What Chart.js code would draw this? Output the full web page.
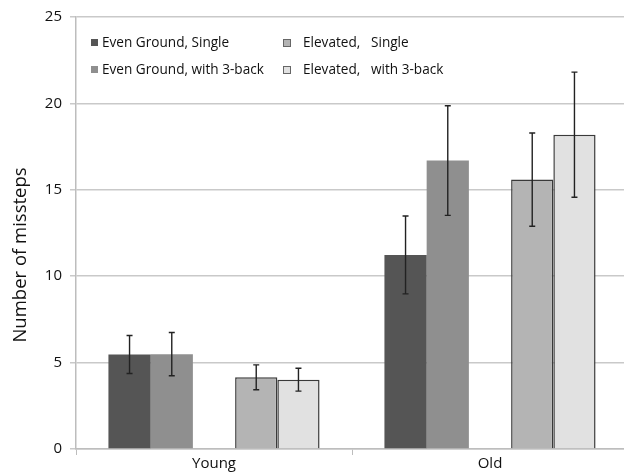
<!DOCTYPE html>
<html><head><meta charset="utf-8">
<script src="https://cdn.jsdelivr.net/npm/chart.js@4.4.1/dist/chart.umd.min.js"></script>
<style>
html,body{margin:0;padding:0;overflow:hidden;background:#fff;width:624px;height:472px;}
#wrap{position:absolute;left:0;top:0;width:632px;height:472px;}
</style></head>
<body><div id="wrap"><canvas id="c" width="632" height="472"></canvas></div>
<script>
const categories = ["Young", "Old"];
const seriesNames = ["Even Ground, Single", "Even Ground, with 3-back", "Elevated, Single", "Elevated, with 3-back"];
const evenSingle = [5.47, 11.23];
const evenBack = [5.49, 16.69];
const elevSingle = [4.15, 15.59];
const elevBack = [4.01, 18.19];
const evenSingleErr = [1.1, 2.25];
const evenBackErr = [1.25, 3.17];
const elevSingleErr = [0.72, 2.7];
const elevBackErr = [0.66, 3.62];
const yTicks = [0, 5, 10, 15, 20, 25];

const FONT = "'Open Sans', sans-serif";
const colors = ["#555555", "#8f8f8f", "#b4b4b4", "#e1e1e1"];
const borders = ["#555555", "#8f8f8f", "#3a3a3a", "#3a3a3a"];
const borderW = [0, 0, 1.5, 1.5];
const values = [evenSingle, evenBack, elevSingle, elevBack];
const errs = [evenSingleErr, evenBackErr, elevSingleErr, elevBackErr];

const datasets = [];
values.forEach((v, i) => {
  if (i === 2) datasets.push({label: "", data: categories.map(() => null), spacer: true, backgroundColor: "rgba(0,0,0,0)"});
  datasets.push({label: seriesNames[i], data: v, err: errs[i], backgroundColor: colors[i], borderColor: borders[i], borderWidth: borderW[i], borderSkipped: "bottom"});
});

const errorBars = {
  id: "errorBars",
  afterDatasetsDraw(chart) {
    const ctx = chart.ctx, y = chart.scales.y;
    ctx.save();
    ctx.strokeStyle = "#222";
    ctx.lineWidth = 1.4;
    chart.data.datasets.forEach((ds, di) => {
      if (!ds.err) return;
      const meta = chart.getDatasetMeta(di);
      meta.data.forEach((el, j) => {
        const v = ds.data[j], e = ds.err[j];
        const x = el.x, yt = y.getPixelForValue(v + e), yb = y.getPixelForValue(v - e);
        ctx.beginPath();
        ctx.moveTo(x, yt); ctx.lineTo(x, yb);
        ctx.moveTo(x - 3, yt); ctx.lineTo(x + 3, yt);
        ctx.moveTo(x - 3, yb); ctx.lineTo(x + 3, yb);
        ctx.stroke();
      });
    });
    ctx.restore();
  }
};

const legendAndTitle = {
  id: "legendAndTitle",
  afterDraw(chart) {
    const ctx = chart.ctx;
    ctx.save();
    ctx.font = "13.6px " + FONT;
    ctx.fillStyle = "#111";
    ctx.textBaseline = "middle";
    const rowsY = [43, 70];
    [0, 1].forEach((k, r) => {
      ctx.fillStyle = colors[k];
      ctx.fillRect(91, rowsY[r] - 4, 7, 7);
      ctx.fillStyle = "#111";
      ctx.fillText(seriesNames[k], 102, rowsY[r]);
    });
    [2, 3].forEach((k, r) => {
      ctx.fillStyle = colors[k];
      ctx.fillRect(283, rowsY[r] - 4, 8, 8);
      ctx.strokeStyle = "#666";
      ctx.lineWidth = 1;
      ctx.strokeRect(283.5, rowsY[r] - 3.5, 7, 7);
      const parts = seriesNames[k].split(", ");
      ctx.fillStyle = "#111";
      ctx.fillText(parts[0] + ",", 303, rowsY[r]);
      ctx.fillText(parts[1], 371, rowsY[r]);
    });
    ctx.font = "18.5px " + FONT;
    ctx.textAlign = "center";
    ctx.translate(21, 255);
    ctx.rotate(-Math.PI / 2);
    ctx.fillText("Number of missteps", 0, 0);
    ctx.restore();
  }
};

new Chart(document.getElementById("c"), {
  type: "bar",
  data: {labels: categories, datasets},
  plugins: [errorBars, legendAndTitle],
  options: {
    responsive: false,
    animation: false,
    events: [],
    layout: {padding: {top: 15, right: 4, left: 0, bottom: 0}},
    datasets: {bar: {categoryPercentage: 0.765, barPercentage: 1}},
    plugins: {legend: {display: false}, tooltip: {enabled: false}},
    scales: {
      x: {
        offset: true,
        afterFit: s => { s.height = 23; },
        grid: {display: true, drawOnChartArea: false, offset: true, color: "#bdbdbd", tickLength: 6, lineWidth: 1},
        border: {display: true, color: "#bdbdbd", width: 1.5},
        ticks: {color: "#111", font: {family: FONT, size: 15}, padding: 0}
      },
      y: {
        min: 0, max: 25,
        afterFit: s => { s.width = 76; },
        afterBuildTicks: s => { s.ticks = yTicks.map(v => ({value: v})); },
        grid: {color: "#c9c9c9", lineWidth: 1.5, tickLength: 6},
        border: {display: true, color: "#bdbdbd", width: 1.5},
        ticks: {color: "#111", font: {family: FONT, size: 15}, padding: 8}
      }
    }
  }
});
</script>
</body></html>
